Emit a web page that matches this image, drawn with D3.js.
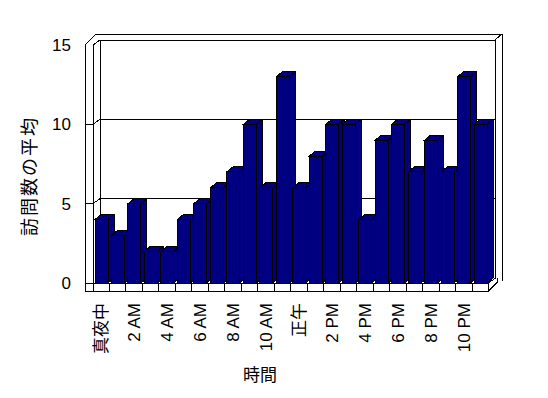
<!DOCTYPE html>
<html>
<head>
<meta charset="utf-8">
<script src="https://cdnjs.cloudflare.com/ajax/libs/d3/7.8.5/d3.min.js"></script>
<style>
	body { margin: 0; background: #fff; }
	svg text { font-family: "Liberation Sans", "Noto Sans CJK JP", sans-serif; fill: #000; }
</style>
</head>
<body>
<svg id="chart" width="548" height="398"></svg>
<script>
// hours of the day (x categories)
var hours = ['真夜中','1 AM','2 AM','3 AM','4 AM','5 AM','6 AM','7 AM','8 AM','9 AM','10 AM','11 AM',
	'正午','1 PM','2 PM','3 PM','4 PM','5 PM','6 PM','7 PM','8 PM','9 PM','10 PM','11 PM'];
// average visits per hour
var visits = [4,3,5,2,2,4,5,6,7,10,6,13,6,8,10,10,4,9,10,7,9,7,13,10];
// labels shown under the floor
var hourLabels = ['真夜中','2 AM','4 AM','6 AM','8 AM','10 AM','正午','2 PM','4 PM','6 PM','8 PM','10 PM'];
var yTicks = [0,5,10,15];

var svg = d3.select('#chart');
var g = svg.append('g').attr('shape-rendering', 'crispEdges');

var wallDx = 7, wallDy = -5;   // depth of floor/left wall
var barDx = 6, barDy = -5;     // depth of a column
var outer = 85;                // outer edge of left wall
var floorB = 291;              // bottom of floor slab

var x = d3.scaleBand().domain(hours).range([93, 488.5]);
var y = d3.scaleLinear().domain([0, 15]).range([283, 45]);
var x0 = x.range()[0], x1 = x.range()[1];

function line(pts) {
	g.append('path')
		.attr('d', d3.line()(pts))
		.attr('fill', 'none')
		.attr('stroke', '#000');
}

// back wall, with its thickness
g.append('rect')
	.attr('x', x0 + wallDx).attr('y', y(15) + wallDy)
	.attr('width', x1 + wallDx - x0 - wallDx + 6).attr('height', y(0) - y(15))
	.attr('fill', '#fff');
line([[outer, y(15)], [outer + 11, y(15) - 11], [x1 + 13.5, y(15) - 11], [x1 + 13.5, y(0) - 2]]);
line([[x0, y(15)], [x0 + wallDx, y(15) + wallDy], [x1 + 6.5, y(15) + wallDy], [x1 + 13.5, y(15) - 11]]);
line([[x1 + 6.5, y(15) + wallDy], [x1 + 6.5, y(0) + wallDy]]);
line([[x0 + wallDx, y(15) + wallDy], [x0 + wallDx, y(0) + wallDy]]);

// gridlines on back and left wall
yTicks.slice(1, 3).forEach(function(t) {
	line([[outer, y(t)], [x0, y(t)], [x0 + wallDx, y(t) + wallDy], [x1 + 6.5, y(t) + wallDy]]);
});

// left wall front face
line([[outer, y(15)], [outer, floorB]]);
line([[x0, y(15)], [x0, y(0)]]);

// floor slab
line([[outer, y(0)], [x1, y(0)], [x1, floorB], [outer, floorB]]);
line([[x1, floorB], [x1 + 9, floorB - 9], [x1 + 9, y(0) + wallDy]]);
line([[x1, y(0)], [x1 + wallDx, y(0) + wallDy]]);
hours.forEach(function(h) {
	line([[x(h), y(0)], [x(h), floorB]]);
});

// columns
var bw = 13;
var bars = g.selectAll('.bar')
	.data(hours.map(function(h, i) { return { hour: h, v: visits[i] }; }))
	.enter().append('g')
		.attr('class', 'bar');

bars.append('path')
	.attr('d', function(d) {
		var l = x(d.hour) + 2, r = l + bw, t = y(d.v), b = y(0);
		return d3.line()([[r, b], [r, t], [l, t], [l + barDx, t + barDy], [r + barDx, t + barDy],
			[r + barDx, b + barDy], [r, b]]) + 'Z';
	})
	.attr('fill', '#000080')
	.attr('stroke', '#000');
bars.append('path')
	.attr('d', function(d) {
		var r = x(d.hour) + 2 + bw, t = y(d.v);
		return d3.line()([[r, t], [r + barDx, t + barDy]]);
	})
	.attr('stroke', '#000');
bars.append('rect')
	.attr('x', function(d) { return x(d.hour) + 2; })
	.attr('y', function(d) { return y(d.v); })
	.attr('width', bw)
	.attr('height', function(d) { return y(0) - y(d.v); })
	.attr('fill', '#000080')
	.attr('stroke', '#000');

// y tick labels
svg.selectAll('.ytick')
	.data(yTicks)
	.enter().append('text')
		.attr('x', 71)
		.attr('y', function(d) { return y(d); })
		.attr('dy', '0.35em')
		.attr('text-anchor', 'end')
		.style('font-size', '17px')
		.text(function(d) { return d; });

// hour labels
svg.selectAll('.xtick')
	.data(hourLabels)
	.enter().append('text')
		.attr('transform', function(d) {
			return 'translate(' + (x(d) + 2 + bw / 2) + ',303) rotate(-90)';
		})
		.attr('dy', '0.35em')
		.attr('text-anchor', 'end')
		.style('font-size', '17px')
		.text(function(d) { return d; });

// axis titles
svg.append('text')
	.attr('transform', 'translate(30,176) rotate(-90)')
	.attr('dy', '0.35em')
	.attr('text-anchor', 'middle')
	.style('font-size', '18px')
	.style('letter-spacing', '2px')
	.text('訪問数の平均');

svg.append('text')
	.attr('x', 260)
	.attr('y', 375)
	.attr('dy', '0.35em')
	.attr('text-anchor', 'middle')
	.style('font-size', '17px')
	.text('時間');
</script>
</body>
</html>
